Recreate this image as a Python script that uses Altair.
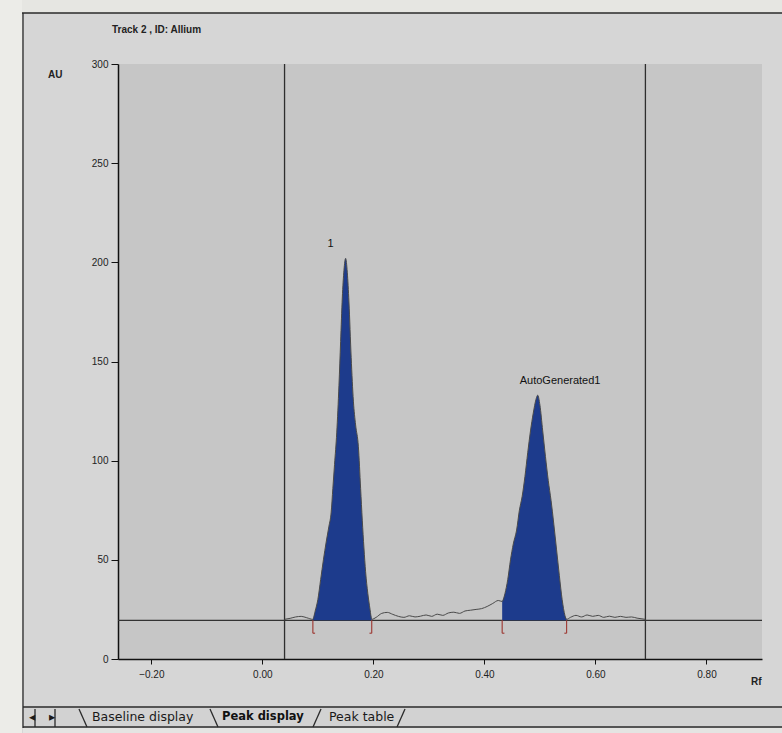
import altair as alt
import pandas as pd

# ---------------- data ----------------
trace_rf = [0.040, 0.050, 0.060, 0.070, 0.080, 0.091, 0.095, 0.100, 0.105, 0.110, 0.115, 0.120,
            0.124, 0.127, 0.130, 0.134, 0.138, 0.141, 0.144, 0.147, 0.150, 0.153, 0.156, 0.160,
            0.164, 0.168, 0.173, 0.177, 0.180, 0.183, 0.186, 0.190, 0.194, 0.197, 0.205, 0.215,
            0.225, 0.235, 0.245, 0.255, 0.265, 0.275, 0.285, 0.295, 0.305, 0.315, 0.325, 0.335,
            0.345, 0.355, 0.365, 0.375, 0.385, 0.395, 0.405, 0.415, 0.425, 0.432, 0.437, 0.442,
            0.447, 0.452, 0.458, 0.463, 0.468, 0.473, 0.478, 0.483, 0.488, 0.493, 0.496, 0.500,
            0.505, 0.510, 0.515, 0.520, 0.525, 0.530, 0.535, 0.540, 0.545, 0.548, 0.555, 0.565,
            0.575, 0.585, 0.595, 0.605, 0.615, 0.625, 0.635, 0.645, 0.655, 0.665, 0.675, 0.690]
trace_au = [20.0, 20.5, 21.2, 21.5, 20.8, 20.0, 24, 30, 40, 50, 59, 67,
            74, 86, 98, 114, 138, 160, 182, 196, 202, 195, 180, 152,
            130, 118, 107, 86, 70, 56, 44, 33, 25, 20, 21.0, 23.0,
            23.5, 22.5, 21.5, 21.0, 21.8, 21.2, 21.6, 22.2, 21.5, 22.6, 22.0, 23.2,
            23.6, 23.0, 24.2, 24.6, 25.0, 25.4, 26.5, 28.0, 29.5, 29.0, 33, 40,
            50, 58, 65, 75, 82, 92, 104, 115, 124, 131, 133, 128,
            115, 102, 90, 80, 68, 55, 42, 30, 22, 20, 21.0, 22.0,
            21.2, 22.2, 21.5, 22.0, 21.0, 21.6, 21.0, 21.5, 21.0, 21.2, 20.6, 20.0]

baseline_au = 19.5
peak_names = ["1", "AutoGenerated1"]
peak_start = [0.091, 0.432]
peak_end = [0.197, 0.548]
peak_top_rf = [0.150, 0.496]
peak_top_au = [202, 133]
marker_low_au = 13.0
track_lines_rf = [0.04, 0.69]

x_ticks = [-0.2, 0.0, 0.2, 0.4, 0.6, 0.8]
y_ticks = [0, 50, 100, 150, 200, 250, 300]
x_domain = [-0.26, 0.90]
y_domain = [0, 300]

title_text = "Track 2 , ID: Allium"
tab_labels = ["Baseline display", "Peak display", "Peak table"]

# ---------------- tables ----------------
trace = pd.DataFrame({"rf": trace_rf, "au": trace_au})
area_rows = []
for name, s, e in zip(peak_names, peak_start, peak_end):
    for r, a in zip(trace_rf, trace_au):
        if s <= r <= e:
            area_rows.append({"peak": name, "rf": r, "au": a})
areas = pd.DataFrame(area_rows)

peaks = pd.DataFrame({"name": peak_names, "rf": peak_top_rf, "au": peak_top_au})
markers = pd.DataFrame({
    "rf": peak_start + peak_end,
    "rf2": [s + 0.004 for s in peak_start] + [e - 0.004 for e in peak_end],
    "au": [marker_low_au] * 4,
    "base": [baseline_au] * 4,
})
tracks = pd.DataFrame({"rf": track_lines_rf})
base = pd.DataFrame({"au": [baseline_au]})

W, H = 644, 595
x_axis = alt.Axis(values=x_ticks, format=".2f", title=None, grid=False,
                  tickSize=5, labelPadding=5, labelFontSize=10,
                  labelFont="Liberation Sans", labelColor="#222",
                  domainColor="#111", domainWidth=1.5, tickColor="#111")
y_axis = alt.Axis(values=y_ticks, format="d", title=None, grid=False,
                  tickSize=7, labelPadding=3, labelFontSize=10,
                  labelFont="Liberation Sans", labelColor="#222",
                  domainColor="#111", domainWidth=1.5, tickColor="#111")
xs = alt.Scale(domain=x_domain, nice=False, zero=False)
ys = alt.Scale(domain=y_domain, nice=False)
X = alt.X("rf:Q", scale=xs, axis=x_axis)
Y = alt.Y("au:Q", scale=ys, axis=y_axis)

# decorations in pixel space (relative to the plot origin)
px = lambda f: alt.X(f, scale=None, axis=None)
py = lambda f: alt.Y(f, scale=None, axis=None)

frame_rects = pd.DataFrame({
    "x": [-118, -118, -95, -95],
    "x2": [664, -96, 664, 664],
    "y": [-64, -64, 644, 664],
    "y2": [-51, 669, 664, 669],
    "c": ["#e6e6e2", "#ecece8", "#d2d2d2", "#e4e4e2"],
})
rects = alt.Chart(frame_rects).mark_rect().encode(
    x=px("x:Q"), x2="x2:Q", y=py("y:Q"), y2="y2:Q", color=alt.Color("c:N", scale=None))

frame_lines = pd.DataFrame({
    "x": [-96, -95, -95, -95, -83, -63, -39, 92, 195, 279],
    "x2": [664, -95, 664, 664, -83, -63, -31, 100, 203, 287],
    "y": [-51, -51, 643, 663, 645, 645, 645, 645, 663, 663],
    "y2": [-51, 664, 643, 663, 663, 663, 663, 663, 645, 645],
})
lines = alt.Chart(frame_lines).mark_rule(color="#2a2a2a", strokeWidth=1.3).encode(
    x=px("x:Q"), x2="x2:Q", y=py("y:Q"), y2="y2:Q")

tab_text = pd.DataFrame({"t": [tab_labels[0], tab_labels[2], "\u25c2", "\u25b8"],
                         "x": [-26, 211, -89, -69], "y": [653, 653, 653, 653]})
tabs = alt.Chart(tab_text).mark_text(align="left", baseline="middle", font="DejaVu Sans",
                                      fontSize=12.5, color="#1a1a1a").encode(
    x=px("x:Q"), y=py("y:Q"), text="t:N")
tab_bold = alt.Chart(pd.DataFrame({"t": [tab_labels[1]], "x": [104], "y": [653]})).mark_text(
    align="left", baseline="middle", font="DejaVu Sans", fontSize=11.5, fontWeight="bold",
    color="#111").encode(x=px("x:Q"), y=py("y:Q"), text="t:N")

labels_px = pd.DataFrame({"t": [title_text, "AU", "Rf"], "x": [-6, -70, 633], "y": [-34, 11, 618]})
misc_text = alt.Chart(labels_px).mark_text(align="left", baseline="middle", font="Liberation Sans",
                                            fontSize=10, fontWeight="bold", color="#222").encode(
    x=px("x:Q"), y=py("y:Q"), text="t:N")

# data layers
track_rules = alt.Chart(tracks).mark_rule(color="#2e2e2e", strokeWidth=1.3).encode(x=X)
base_rule = alt.Chart(base).mark_rule(color="#333", strokeWidth=1.2).encode(y=Y)
peak_area = alt.Chart(areas).mark_area(color="#1d3b8c", opacity=1, interpolate="monotone").encode(
    x=X, y=Y, y2=alt.datum(baseline_au), detail="peak:N")
trace_line = alt.Chart(trace).mark_line(color="#4a4a4a", strokeWidth=1, interpolate="monotone").encode(
    x=X, y=Y)
marker_v = alt.Chart(markers).mark_rule(color="#a0403a", strokeWidth=1.2).encode(
    x=X, y=Y, y2="base:Q")
marker_h = alt.Chart(markers).mark_rule(color="#a0403a", strokeWidth=1.2).encode(
    x=X, x2="rf2:Q", y=Y)
peak_text = alt.Chart(peaks).mark_text(align="left", baseline="middle", dx=-18, dy=-14,
                                        font="Liberation Sans", fontSize=11, color="#111").encode(
    x=X, y=Y, text="name:N")

data_layers = alt.layer(
    track_rules, base_rule, peak_area, trace_line, marker_v, marker_h, peak_text
)

chart = alt.layer(
    rects, lines, tabs, tab_bold, misc_text, data_layers
).resolve_scale(x="independent", y="independent").properties(
    width=W, height=H,
    autosize=alt.AutoSizeParams(type="none"),
    padding={"left": 118, "top": 64, "right": 20, "bottom": 74},
).configure(background="#d6d6d6").configure_view(fill="#c6c6c6", strokeWidth=0)

chart.save("out.html", embed_options={"renderer": "svg", "actions": False})
